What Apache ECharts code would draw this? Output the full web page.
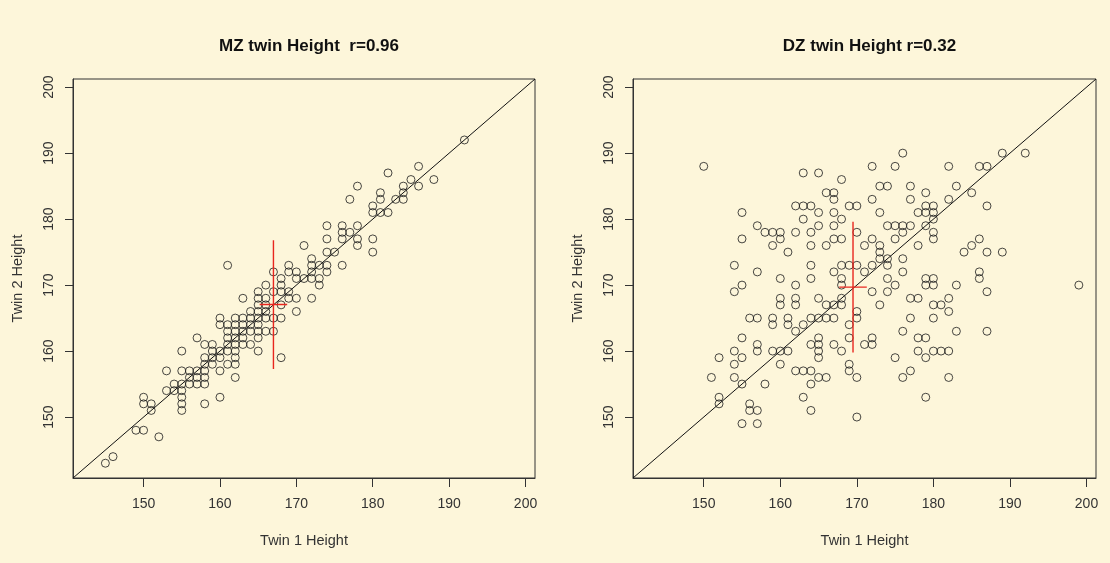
<!DOCTYPE html>
<html>
<head>
<meta charset="utf-8">
<script src="https://cdn.jsdelivr.net/npm/echarts@6/dist/echarts.min.js"></script>
<style>
html,body{margin:0;padding:0;background:#FDF6DA;}
#chart{width:1110px;height:563px;}
</style>
</head>
<body>
<div id="chart"></div>
<script>
// ---- data (heights in cm) ----
const axisLimits = [140.76, 201.24];
const tickValues = [150, 160, 170, 180, 190, 200];
const titles = ["MZ twin Height  r=0.96", "DZ twin Height r=0.32"];
const xName = "Twin 1 Height";
const yName = "Twin 2 Height";

const mzTwin1 = [145,146,149,150,152,150,150,151,151,153,153,154,154,155,155,155,155,155,155,155,156,156,156,157,157,157,157,158,158,158,158,158,158,158,159,159,159,159,160,160,160,160,160,160,161,161,161,161,161,161,161,162,162,162,162,162,162,162,162,162,163,163,163,163,163,163,164,164,164,164,164,165,165,165,165,165,165,165,165,165,166,166,166,166,166,166,167,167,167,167,168,168,168,168,168,168,169,169,169,169,170,170,170,170,171,171,172,172,172,172,172,173,173,173,174,174,174,174,174,175,176,176,176,176,177,177,178,178,178,178,180,180,180,180,181,181,181,182,182,183,184,184,184,185,186,186,188,192];
const mzTwin2 = [143,144,148,148,147,153,152,152,151,157,154,155,154,160,157,155,154,153,152,151,157,156,155,162,157,156,155,161,159,158,157,156,155,152,161,160,159,158,165,164,160,159,157,153,173,164,163,162,161,160,158,165,164,163,162,161,160,159,158,156,168,165,164,163,162,161,166,165,164,163,161,169,168,167,166,165,164,163,162,160,170,168,167,166,165,163,172,169,165,163,171,170,169,167,165,159,173,172,169,168,172,171,168,166,176,171,174,173,172,171,168,173,171,170,179,177,175,173,172,175,179,178,177,173,183,178,185,179,177,176,182,181,177,175,184,183,181,187,181,183,185,184,183,186,188,185,186,192];

const dzTwin1 = [150,163,165,168,172,175,173,174,166,167,167,172,155,162,163,164,165,167,169,170,173,163,168,157,158,159,160,160,159,162,164,165,167,155,161,164,166,167,168,170,171,172,173,173,174,175,175,154,157,160,162,164,164,167,168,169,170,168,168,172,173,174,174,171,174,175,155,154,160,160,162,162,165,166,167,168,168,172,173,174,170,170,169,169,156,157,159,159,161,161,162,163,164,165,166,167,155,157,157,154,155,154,152,159,160,161,164,165,165,165,165,167,168,171,172,172,175,160,162,163,164,165,166,164,169,169,170,151,154,155,152,152,158,156,156,157,155,157,163,164,170,176,182,186,187,189,192,177,179,183,185,177,182,179,180,178,179,180,180,187,176,177,176,179,180,180,178,186,185,184,187,189,176,176,186,186,179,180,179,180,183,199,187,177,178,180,181,182,182,177,180,176,183,187,178,179,178,180,181,182,179,177,176,182,179];
const dzTwin2 = [188,187,187,186,188,188,185,185,184,184,183,183,181,182,182,182,181,181,182,182,181,180,180,179,178,178,178,177,176,178,178,179,179,177,175,176,176,177,177,178,176,177,176,175,179,179,177,173,172,171,170,173,171,172,173,173,173,171,170,173,174,174,173,172,171,170,170,169,168,167,168,167,168,167,167,167,168,169,167,169,166,165,164,162,165,165,165,164,165,164,163,164,165,165,165,165,162,161,160,160,159,158,159,160,160,160,161,162,161,160,159,161,160,161,162,161,159,158,157,157,157,156,156,155,158,157,156,156,156,155,153,152,155,152,151,151,149,149,153,151,150,190,188,188,188,190,190,185,184,185,184,183,183,182,182,181,181,181,180,182,179,179,178,179,178,177,176,177,176,175,175,175,174,172,172,171,171,171,170,170,170,170,169,168,168,167,167,168,166,165,165,163,163,163,162,162,160,160,160,160,159,157,156,156,153];

// mean cross: centre [x, y] and half-lengths [horizontal, vertical]
const mzCentre = [167.0, 167.05];
const mzHalf = [1.8, 9.75];
const dzCentre = [169.5, 169.7];
const dzHalf = [1.8, 9.9];

// ---- build options ----
const pair = (a, b) => a.map((v, i) => [v, b[i]]);
const grids = [
  {left: 73, top: 79, width: 462, height: 399},
  {left: 633, top: 79, width: 463, height: 399}
];
const textColor = '#333';
const fontFamily = '"Liberation Sans", Arial, sans-serif';

function xAxisFor(i) {
  return {
    type: 'value', gridIndex: i, min: axisLimits[0], max: axisLimits[1],
    splitLine: {show: false},
    axisLine: {show: true, lineStyle: {color: '#333', width: 1}},
    axisTick: {show: true, length: 9, customValues: tickValues, lineStyle: {color: '#333'}},
    axisLabel: {customValues: tickValues, margin: 19, fontSize: 14, color: textColor, fontFamily: fontFamily},
    name: xName, nameLocation: 'middle', nameGap: 55,
    nameTextStyle: {fontSize: 14.5, color: textColor, fontFamily: fontFamily}
  };
}
function yAxisFor(i) {
  return {
    type: 'value', gridIndex: i, min: axisLimits[0], max: axisLimits[1],
    splitLine: {show: false},
    axisLine: {show: true, lineStyle: {color: '#333', width: 1}},
    axisTick: {show: true, length: 8, customValues: tickValues, lineStyle: {color: '#333'}},
    axisLabel: {customValues: tickValues, rotate: 90, margin: 17, fontSize: 14, color: textColor, fontFamily: fontFamily},
    name: yName, nameLocation: 'middle', nameGap: 48,
    nameTextStyle: {fontSize: 14.5, color: textColor, fontFamily: fontFamily}
  };
}
function scatterFor(i, xs, ys) {
  return {
    type: 'scatter', xAxisIndex: i, yAxisIndex: i, data: pair(xs, ys),
    symbol: 'circle', symbolSize: 8, silent: true,
    itemStyle: {color: 'rgba(0,0,0,0)', borderColor: '#1a1a1a', borderWidth: 1},
    z: 3
  };
}
function lineFor(i, pts, color, z, w) {
  return {
    type: 'line', xAxisIndex: i, yAxisIndex: i, data: pts, symbol: 'none', silent: true,
    lineStyle: {color: color, width: w}, z: z
  };
}
function crossFor(i, c, h) {
  return [
    lineFor(i, [[c[0] - h[0], c[1]], [c[0] + h[0], c[1]]], '#E8261E', 4, 1.4),
    lineFor(i, [[c[0], c[1] - h[1]], [c[0], c[1] + h[1]]], '#E8261E', 4, 1.4)
  ];
}
const diag = [[axisLimits[0], axisLimits[0]], [axisLimits[1], axisLimits[1]]];

const option = {
  backgroundColor: '#FDF6DA',
  animation: false,
  title: titles.map((t, i) => ({
    text: t, left: grids[i].left + grids[i].width / 2, top: 33, textAlign: 'center',
    textStyle: {fontSize: 17, fontWeight: 'bold', color: '#111', fontFamily: fontFamily}
  })),
  grid: grids.map(g => Object.assign({show: true, borderColor: '#333', borderWidth: 1, backgroundColor: 'transparent'}, g)),
  xAxis: [xAxisFor(0), xAxisFor(1)],
  yAxis: [yAxisFor(0), yAxisFor(1)],
  series: [
    lineFor(0, diag, '#111', 2, 1),
    scatterFor(0, mzTwin1, mzTwin2),
    ...crossFor(0, mzCentre, mzHalf),
    lineFor(1, diag, '#111', 2, 1),
    scatterFor(1, dzTwin1, dzTwin2),
    ...crossFor(1, dzCentre, dzHalf)
  ]
};
const chart = echarts.init(document.getElementById('chart'), null, {renderer: 'canvas'});
chart.setOption(option);
</script>
</body>
</html>
